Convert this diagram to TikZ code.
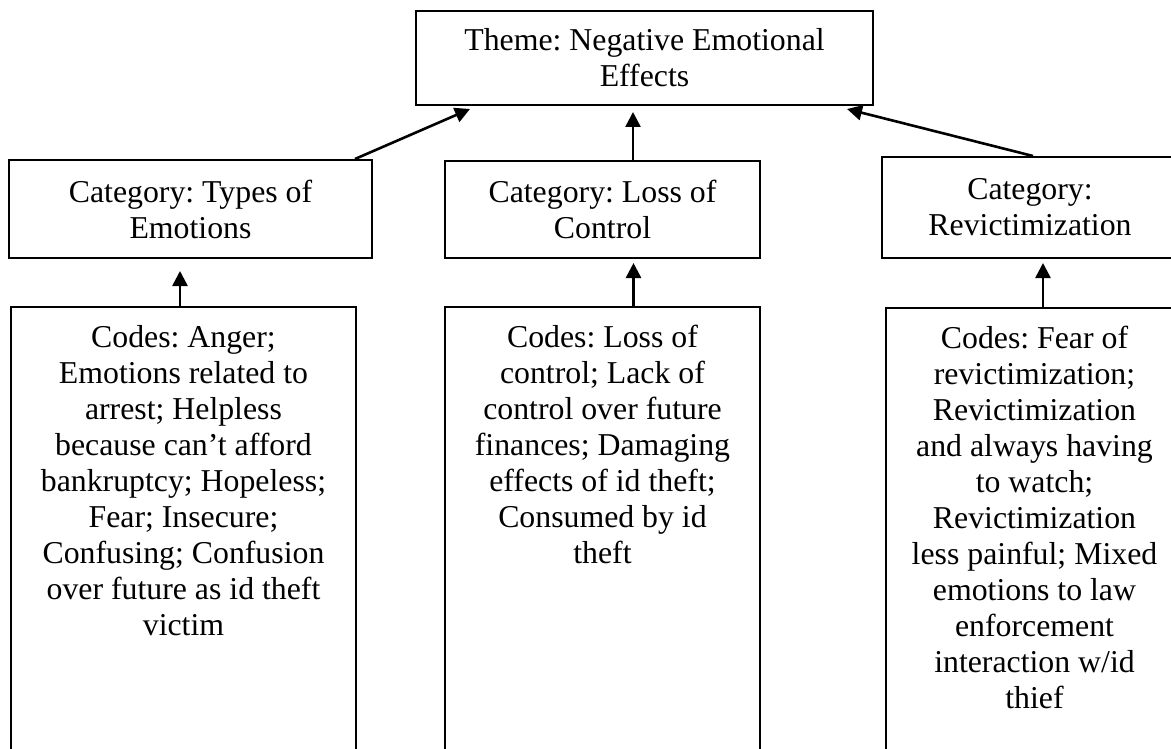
\documentclass[tikz,border=0pt]{standalone}
\usepackage{fontspec}
\setmainfont{Liberation Serif}
\usetikzlibrary{arrows.meta}
\frenchspacing
\tikzset{
  box/.style={draw=black, line width=2pt, inner sep=0pt, align=center, font=\fontsize{31.8}{36}\selectfont\frenchspacing},
  txt/.style={inner sep=0pt, align=center, font=\fontsize{31.8}{36}\selectfont\frenchspacing},
  conn/.style={line width=2.6pt, -{Triangle[length=15pt,width=15pt]}}
}
\begin{document}
\begin{tikzpicture}[x=1pt,y=-1pt]
\clip (0,0) rectangle (1171,749);
\fill[white] (0,0) rectangle (1171,749);
% theme
\node[box, minimum width=457pt, minimum height=94pt] (theme) at (644.5,58) {Theme: Negative Emotional\\Effects};
% categories
\node[box, minimum width=363pt, minimum height=98pt] (cat1) at (190.5,209) {Category: Types of\\Emotions};
\node[box, minimum width=315pt, minimum height=97pt] (cat2) at (602.5,209.5) {Category: Loss of\\Control};
\node[box, minimum width=296pt, minimum height=101pt] (cat3) at (1030,207.5) {Category:\\Revictimization};
% code boxes
\node[box, minimum width=345pt, minimum height=500pt, anchor=north] (code1) at (183.5,306) {};
\node[box, minimum width=315pt, minimum height=500pt, anchor=north] (code2) at (602.5,306) {};
\node[box, minimum width=297pt, minimum height=500pt, anchor=north] (code3) at (1034.5,307) {};
% code texts
\node[txt, anchor=north] (code1t) at (183.5,325) {Codes: Anger;\\Emotions related to\\arrest; Helpless\\because can’t afford\\bankruptcy; Hopeless;\\Fear; Insecure;\\Confusing; Confusion\\over future as id theft\\victim};
\node[txt, anchor=north] (code2t) at (602.5,325) {Codes: Loss of\\control; Lack of\\control over future\\finances; Damaging\\effects of id theft;\\Consumed by id\\theft};
\node[txt, anchor=north] (code3t) at (1034.5,326) {Codes: Fear of\\revictimization;\\Revictimization\\and always having\\to watch;\\Revictimization\\less painful; Mixed\\emotions to law\\enforcement\\interaction w/id\\thief};
% connectors category -> theme
\draw[conn] ([xshift=164.5pt]cat1.north) -- ([xshift=-174.5pt,yshift=-3pt]theme.south);
\draw[conn] ([xshift=30.5pt]cat2.north) -- ([xshift=-11.5pt,yshift=-6pt]theme.south);
\draw[conn] ([xshift=3pt]cat3.north) -- ([xshift=202.5pt,yshift=-3pt]theme.south);
% connectors codes -> category
\draw[conn] ([xshift=-3.5pt]code1.north) -- ([xshift=-10.5pt,yshift=-12pt]cat1.south);
\draw[conn] ([xshift=31pt]code2.north) -- ([xshift=31pt,yshift=-4pt]cat2.south);
\draw[conn] ([xshift=8.5pt]code3.north) -- ([xshift=13pt,yshift=-4pt]cat3.south);
\end{tikzpicture}
\end{document}
